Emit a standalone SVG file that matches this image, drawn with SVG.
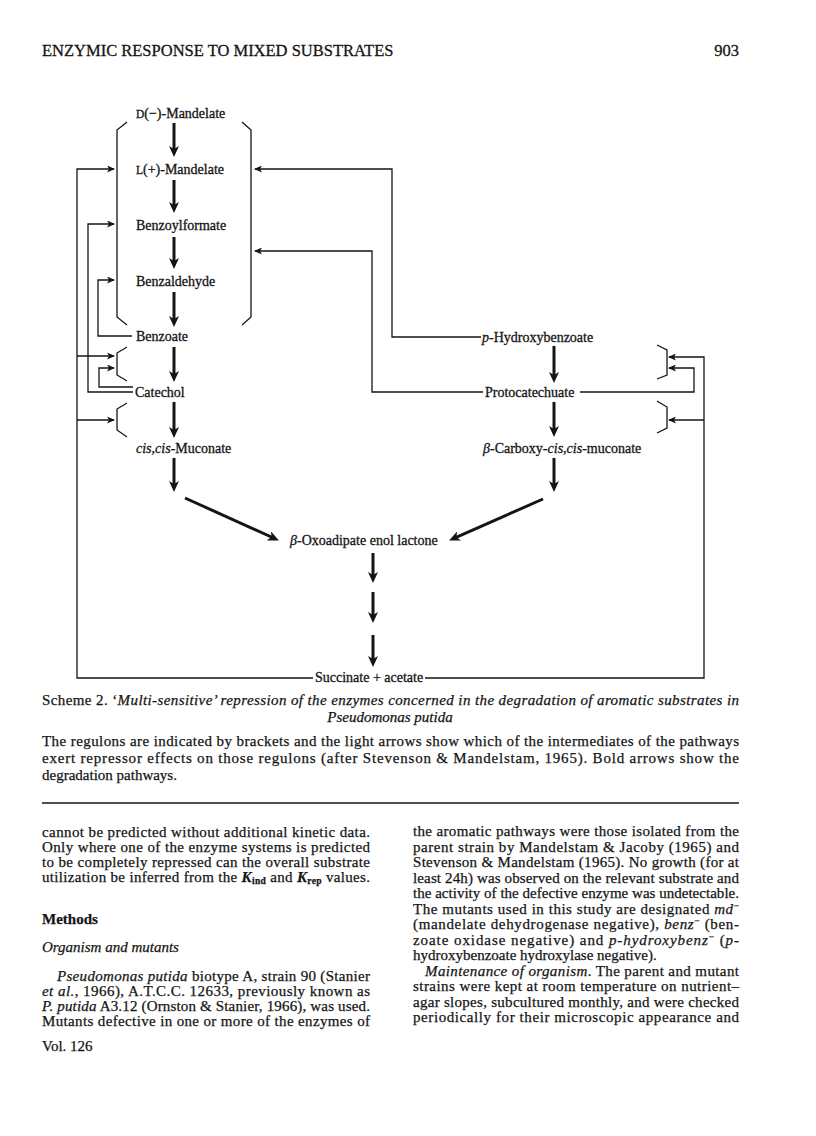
<svg xmlns="http://www.w3.org/2000/svg" width="816" height="1136" viewBox="0 0 816 1136">
<style>
.t{font-family:"Liberation Serif","Times New Roman",serif;font-size:14px;fill:#151515;stroke:#151515;stroke-width:0.3}
.p{font-size:15px;stroke-width:0.25}
.i{font-style:italic}
.b{font-weight:bold}
.sc{font-size:11.5px}
.sub{font-size:9.5px}
.light{fill:none;stroke:#151515;stroke-width:1.3}
.bold{fill:none;stroke:#151515;stroke-width:3}
.br{fill:none;stroke:#151515;stroke-width:1.3}
</style>
<defs>
<marker id="hb" viewBox="0 0 11 10" markerWidth="11" markerHeight="10" refX="4" refY="5" orient="auto" markerUnits="userSpaceOnUse"><path d="M0,0 L11,5 L0,10 L3,5 Z" fill="#151515"/></marker>
<marker id="hl" viewBox="0 0 8 7" markerWidth="8" markerHeight="7" refX="7" refY="3.5" orient="auto" markerUnits="userSpaceOnUse"><path d="M0,0 L8,3.5 L0,7 L2,3.5 Z" fill="#151515"/></marker>
</defs>
<rect width="816" height="1136" fill="#fff"/>

<!-- header -->
<text class="t" x="42" y="56" style="font-size:16.5px">ENZYMIC RESPONSE TO MIXED SUBSTRATES</text>
<text class="t" x="739" y="56" text-anchor="end" style="font-size:16.5px">903</text>

<!-- regulon brackets -->
<g id="regulons">
<path class="br" d="M127,122 L117,130 L117,317 L127,325"/>
<path class="br" d="M242,122 L251,130 L251,317 L242,325"/>
<path class="br" d="M127,347 L117,353 L117,375 L127,381"/>
<path class="br" d="M127,403 L117,409 L117,430 L127,437"/>
<path class="br" d="M657,345 L667,350 L667,375 L657,379"/>
<path class="br" d="M657,401 L667,407 L667,428 L657,433"/>
</g>

<!-- connectors -->
<g id="connectors">
<!-- degradation pathway (bold) -->
<path class="bold" marker-end="url(#hb)" d="M174,123 V150"/>
<path class="bold" marker-end="url(#hb)" d="M174,180 V206"/>
<path class="bold" marker-end="url(#hb)" d="M174,237 V262"/>
<path class="bold" marker-end="url(#hb)" d="M174,292 V320"/>
<path class="bold" marker-end="url(#hb)" d="M174,347 V375"/>
<path class="bold" marker-end="url(#hb)" d="M174,402 V431"/>
<path class="bold" marker-end="url(#hb)" d="M174,458 V485"/>
<path class="bold" marker-end="url(#hb)" d="M554,346 V376"/>
<path class="bold" marker-end="url(#hb)" d="M554,402 V430"/>
<path class="bold" marker-end="url(#hb)" d="M554,458 V485"/>
<path class="bold" marker-end="url(#hb)" d="M185,498 L272.5,537.5"/>
<path class="bold" marker-end="url(#hb)" d="M543,499 L455.5,537.6"/>
<path class="bold" marker-end="url(#hb)" d="M373,553 V576"/>
<path class="bold" marker-end="url(#hb)" d="M373,592 V616"/>
<path class="bold" marker-end="url(#hb)" d="M373,635 V660"/>
<!-- repressor effects (light) -->
<path class="light" marker-end="url(#hl)" d="M313,678 H77 V169 H114"/>
<path class="light" marker-end="url(#hl)" d="M77,356 H114"/>
<path class="light" marker-end="url(#hl)" d="M77,420 H114"/>
<path class="light" marker-end="url(#hl)" d="M133,392 H88 V224 H114"/>
<path class="light" marker-end="url(#hl)" d="M132,336 H98 V280 H114"/>
<path class="light" marker-end="url(#hl)" d="M133,387 H99 V368 H114"/>
<path class="light" marker-end="url(#hl)" d="M481,337 H392 V169 H255"/>
<path class="light" marker-end="url(#hl)" d="M483,392 H372 V251 H255"/>
<path class="light" marker-end="url(#hl)" d="M580,392 H694 V368 H669"/>
<path class="light" marker-end="url(#hl)" d="M425,678 H704 V357 H669"/>
<path class="light" marker-end="url(#hl)" d="M704,420 H669"/>
</g>

<!-- nodes -->
<g id="d-mandelate"><text class="t" x="136" y="118"><tspan class="sc">D</tspan>(−)-Mandelate</text></g>
<g id="l-mandelate"><text class="t" x="136" y="174"><tspan class="sc">L</tspan>(+)-Mandelate</text></g>
<g id="benzoylformate"><text class="t" x="136" y="230">Benzoylformate</text></g>
<g id="benzaldehyde"><text class="t" x="136" y="286">Benzaldehyde</text></g>
<g id="benzoate"><text class="t" x="136" y="341">Benzoate</text></g>
<g id="catechol"><text class="t" x="135" y="397">Catechol</text></g>
<g id="muconate"><text class="t" x="136" y="453"><tspan class="i">cis</tspan>,<tspan class="i">cis</tspan>-Muconate</text></g>
<g id="p-hydroxybenzoate"><text class="t" x="482" y="342"><tspan class="i">p</tspan>-Hydroxybenzoate</text></g>
<g id="protocatechuate"><text class="t" x="485" y="397">Protocatechuate</text></g>
<g id="carboxymuconate"><text class="t" x="483" y="453"><tspan class="i">β</tspan>-Carboxy-<tspan class="i">cis</tspan>,<tspan class="i">cis</tspan>-muconate</text></g>
<g id="oxoadipate"><text class="t" x="290" y="545"><tspan class="i">β</tspan>-Oxoadipate enol lactone</text></g>
<g id="succinate"><text class="t" x="315" y="682">Succinate + acetate</text></g>

<!-- caption -->
<text class="t p" x="42" y="705" textLength="697" lengthAdjust="spacing">Scheme 2. ‘<tspan class="i">Multi-sensitive’ repression of the enzymes concerned in the degradation of aromatic substrates in</tspan></text>
<text class="t p i" x="390" y="722" text-anchor="middle">Pseudomonas putida</text>
<text class="t p" x="42" y="746" textLength="697" lengthAdjust="spacing">The regulons are indicated by brackets and the light arrows show which of the intermediates of the pathways</text>
<text class="t p" x="42" y="763" textLength="697" lengthAdjust="spacing">exert repressor effects on those regulons (after Stevenson &amp; Mandelstam, 1965). Bold arrows show the</text>
<text class="t p" x="42" y="780">degradation pathways.</text>
<line x1="42" y1="803" x2="739" y2="803" stroke="#151515" stroke-width="1.6"/>

<!-- left column -->
<text class="t p" x="42" y="837" textLength="328" lengthAdjust="spacing">cannot be predicted without additional kinetic data.</text>
<text class="t p" x="42" y="852" textLength="328" lengthAdjust="spacing">Only where one of the enzyme systems is predicted</text>
<text class="t p" x="42" y="867" textLength="328" lengthAdjust="spacing">to be completely repressed can the overall substrate</text>
<text class="t p" x="42" y="882" textLength="328" lengthAdjust="spacing">utilization be inferred from the <tspan class="i b">K</tspan><tspan class="sub b" dy="2">ind</tspan><tspan dy="-2"> and </tspan><tspan class="i b">K</tspan><tspan class="sub b" dy="2">rep</tspan><tspan dy="-2"> values.</tspan></text>
<text class="t p b" x="42" y="924">Methods</text>
<text class="t p i" x="42" y="952">Organism and mutants</text>
<text class="t p" x="57" y="981" textLength="313" lengthAdjust="spacing"><tspan class="i">Pseudomonas putida</tspan> biotype A, strain 90 (Stanier</text>
<text class="t p" x="42" y="996" textLength="328" lengthAdjust="spacing"><tspan class="i">et al.</tspan>, 1966), A.T.C.C. 12633, previously known as</text>
<text class="t p" x="42" y="1011" textLength="328" lengthAdjust="spacing"><tspan class="i">P. putida</tspan> A3.12 (Ornston &amp; Stanier, 1966), was used.</text>
<text class="t p" x="42" y="1026" textLength="328" lengthAdjust="spacing">Mutants defective in one or more of the enzymes of</text>
<text class="t p" x="42" y="1051">Vol. 126</text>

<!-- right column -->
<text class="t p" x="413" y="836" textLength="326" lengthAdjust="spacing">the aromatic pathways were those isolated from the</text>
<text class="t p" x="413" y="851.5" textLength="326" lengthAdjust="spacing">parent strain by Mandelstam &amp; Jacoby (1965) and</text>
<text class="t p" x="413" y="867" textLength="326" lengthAdjust="spacing">Stevenson &amp; Mandelstam (1965). No growth (for at</text>
<text class="t p" x="413" y="882.5" textLength="326" lengthAdjust="spacing">least 24h) was observed on the relevant substrate and</text>
<text class="t p" x="413" y="898" textLength="326" lengthAdjust="spacing">the activity of the defective enzyme was undetectable.</text>
<text class="t p" x="413" y="913.5" textLength="326" lengthAdjust="spacing">The mutants used in this study are designated <tspan class="i">md</tspan><tspan class="sub" dy="-5">−</tspan></text>
<text class="t p" x="413" y="929" textLength="326" lengthAdjust="spacing">(mandelate dehydrogenase negative), <tspan class="i">benz</tspan><tspan class="sub" dy="-5">−</tspan><tspan dy="5"> (ben-</tspan></text>
<text class="t p" x="413" y="944.5" textLength="326" lengthAdjust="spacing">zoate oxidase negative) and <tspan class="i">p-hydroxybenz</tspan><tspan class="sub" dy="-5">−</tspan><tspan dy="5"> (</tspan><tspan class="i">p</tspan>-</text>
<text class="t p" x="413" y="960">hydroxybenzoate hydroxylase negative).</text>
<text class="t p" x="425" y="975.5" textLength="314" lengthAdjust="spacing"><tspan class="i">Maintenance of organism</tspan>. The parent and mutant</text>
<text class="t p" x="413" y="991" textLength="326" lengthAdjust="spacing">strains were kept at room temperature on nutrient–</text>
<text class="t p" x="413" y="1006.5" textLength="326" lengthAdjust="spacing">agar slopes, subcultured monthly, and were checked</text>
<text class="t p" x="413" y="1022" textLength="326" lengthAdjust="spacing">periodically for their microscopic appearance and</text>
</svg>
